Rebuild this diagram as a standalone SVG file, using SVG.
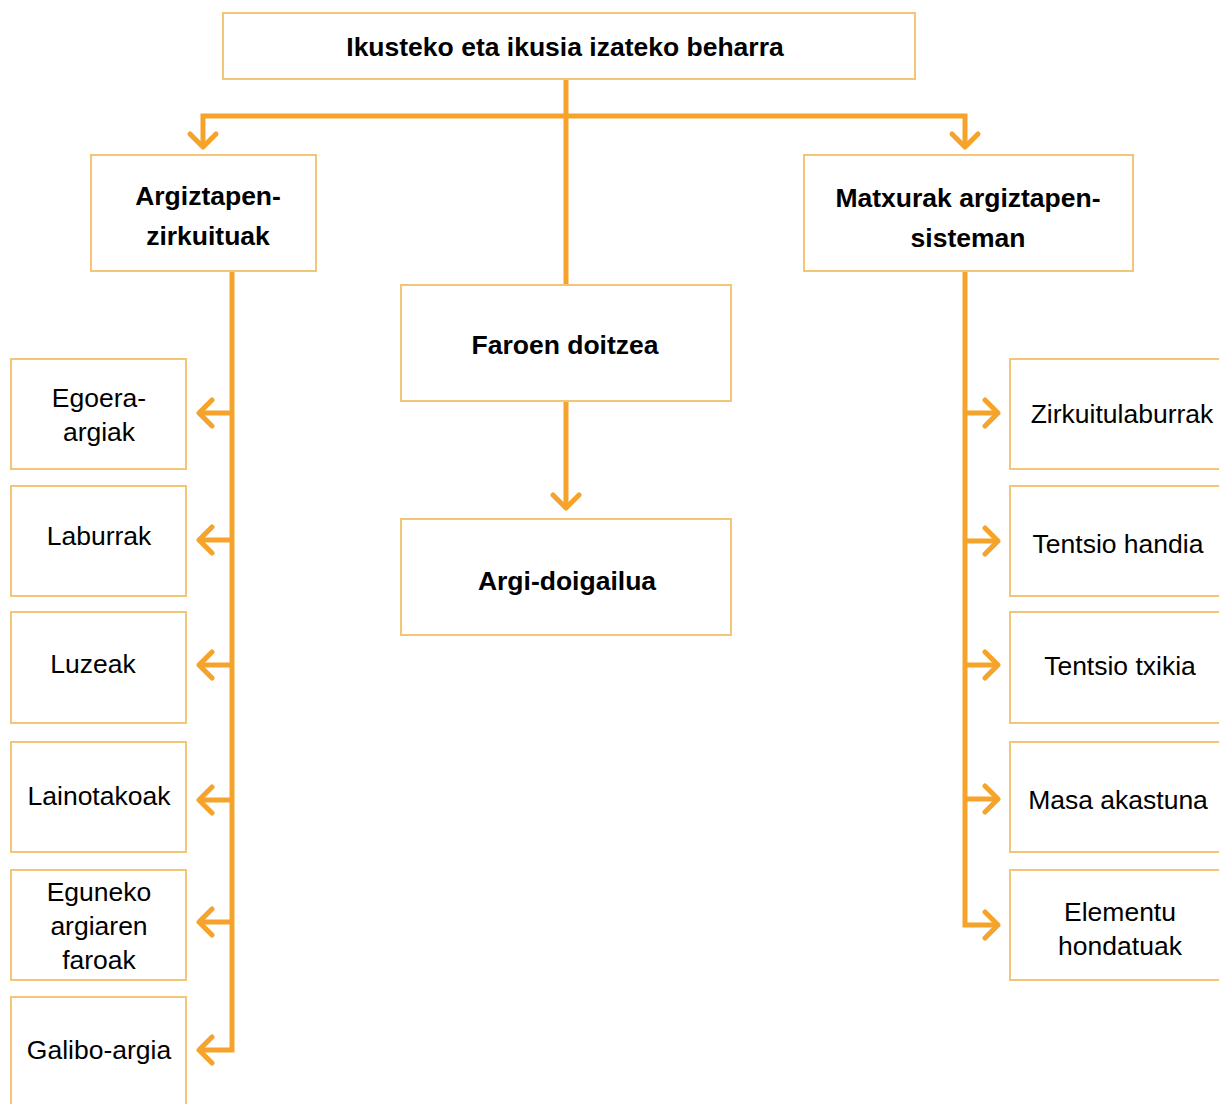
<svg xmlns="http://www.w3.org/2000/svg" width="1219" height="1104" viewBox="0 0 1219 1104">
<style>
.box{fill:#fff;stroke:#F2C577;stroke-width:2}
.ln{fill:none;stroke:#F5A32B;stroke-width:5;stroke-linejoin:miter}
.ah{fill:none;stroke:#F5A32B;stroke-width:5;stroke-linecap:round;stroke-linejoin:round}
text{font-family:"Liberation Sans",Arial,sans-serif;font-size:26.5px;fill:#000;text-anchor:middle}
.b{font-weight:bold}
</style>
<rect width="1219" height="1104" fill="#fff"/>
<g id="connectors">
<path class="ln" d="M566 79 V285"/>
<path class="ln" d="M203 146 V116 H965 V146"/>
<path class="ah" d="M190 134 L203 147 L216 134"/>
<path class="ah" d="M952 134 L965 147 L978 134"/>
<path class="ln" d="M566 401 V507"/>
<path class="ah" d="M553 495 L566 508 L579 495"/>
<path class="ln" d="M232 271 V1050 H200"/>
<path class="ln" d="M232 413 H200 M232 540 H200 M232 665 H200 M232 800 H200 M232 922 H200"/>
<path class="ah" d="M212 400 L199 413 L212 426 M212 527 L199 540 L212 553 M212 652 L199 665 L212 678 M212 787 L199 800 L212 813 M212 909 L199 922 L212 935 M212 1037 L199 1050 L212 1063"/>
<path class="ln" d="M965 271 V925 H997"/>
<path class="ln" d="M965 413 H997 M965 541 H997 M965 665 H997 M965 799 H997"/>
<path class="ah" d="M985 400 L998 413 L985 426 M985 528 L998 541 L985 554 M985 652 L998 665 L985 678 M985 786 L998 799 L985 812 M985 912 L998 925 L985 938"/>
</g>
<g id="n-top"><rect class="box" x="223" y="13" width="692" height="66"/><text class="b" x="565" y="56">Ikusteko eta ikusia izateko beharra</text></g>
<g id="n-argiztapen"><rect class="box" x="91" y="155" width="225" height="116"/><text class="b" x="208" y="205">Argiztapen-</text><text class="b" x="208" y="245">zirkuituak</text></g>
<g id="n-matxurak"><rect class="box" x="804" y="155" width="329" height="116"/><text class="b" x="968" y="207">Matxurak argiztapen-</text><text class="b" x="968" y="247">sisteman</text></g>
<g id="n-faroen"><rect class="box" x="401" y="285" width="330" height="116"/><text class="b" x="565" y="354">Faroen doitzea</text></g>
<g id="n-argidoigailua"><rect class="box" x="401" y="519" width="330" height="116"/><text class="b" x="567" y="590">Argi-doigailua</text></g>
<g id="n-egoera"><rect class="box" x="11" y="359" width="175" height="110"/><text x="99" y="407">Egoera-</text><text x="99" y="441">argiak</text></g>
<g id="n-laburrak"><rect class="box" x="11" y="486" width="175" height="110"/><text x="99" y="545">Laburrak</text></g>
<g id="n-luzeak"><rect class="box" x="11" y="612" width="175" height="111"/><text x="93" y="673">Luzeak</text></g>
<g id="n-lainotakoak"><rect class="box" x="11" y="742" width="175" height="110"/><text x="99" y="805">Lainotakoak</text></g>
<g id="n-eguneko"><rect class="box" x="11" y="870" width="175" height="110"/><text x="99" y="901">Eguneko</text><text x="99" y="935">argiaren</text><text x="99" y="969">faroak</text></g>
<g id="n-galibo"><rect class="box" x="11" y="997" width="175" height="120"/><text x="99" y="1059">Galibo-argia</text></g>
<g id="n-zirkuitulaburrak"><rect class="box" x="1010" y="359" width="220" height="110"/><text x="1122" y="423">Zirkuitulaburrak</text></g>
<g id="n-handia"><rect class="box" x="1010" y="486" width="220" height="110"/><text x="1118" y="553">Tentsio handia</text></g>
<g id="n-txikia"><rect class="box" x="1010" y="612" width="220" height="111"/><text x="1120" y="675">Tentsio txikia</text></g>
<g id="n-masa"><rect class="box" x="1010" y="742" width="220" height="110"/><text x="1118" y="809">Masa akastuna</text></g>
<g id="n-elementu"><rect class="box" x="1010" y="870" width="220" height="110"/><text x="1120" y="921">Elementu</text><text x="1120" y="955">hondatuak</text></g>
</svg>
